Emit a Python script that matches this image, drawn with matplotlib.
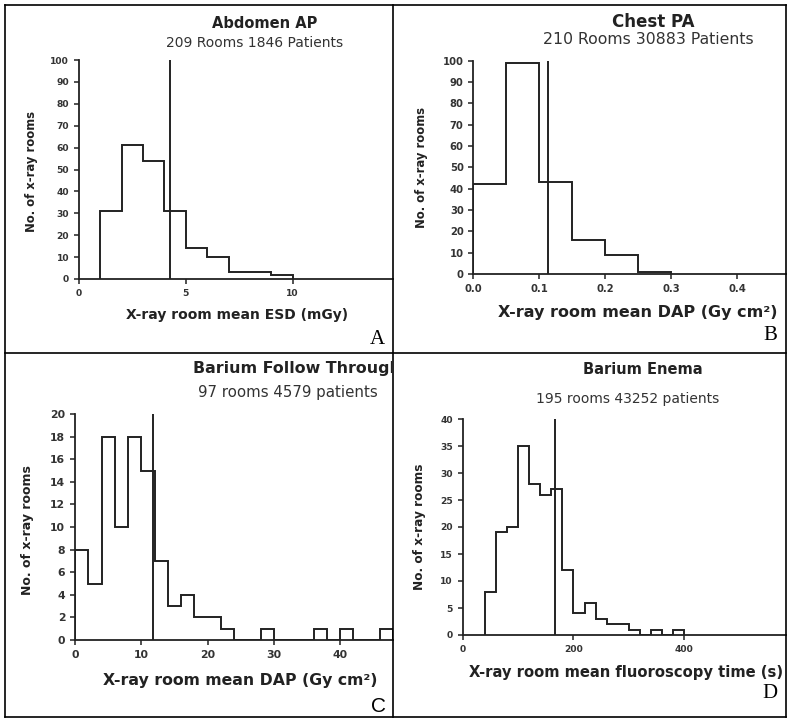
import numpy as np
import matplotlib
matplotlib.use('Agg')
import matplotlib.pyplot as plt
from matplotlib.transforms import Bbox

plt.rcParams['font.family'] = ['DejaVu Sans']

# Panel A - Abdomen AP (ESD, mGy)
a_edges = np.arange(1, 11, 1)
a_counts = [31, 61, 54, 31, 14, 10, 3, 3, 2]
a_ref = 4.25

# Panel B - Chest PA (DAP, Gy cm2)
b_edges = np.arange(0, 0.31, 0.05)
b_counts = [42, 99, 43, 16, 9, 1]
b_ref = 0.113

# Panel C - Barium Follow Through (DAP, Gy cm2)
c_edges = np.arange(0, 49, 2)
c_counts = [8, 5, 18, 10, 18, 15, 7, 3, 4, 2, 2, 1, 0, 0, 1, 0, 0, 0, 1, 0, 1, 0, 0, 1]
c_ref = 11.7

# Panel D - Barium Enema (fluoroscopy time, s)
d_edges = np.arange(40, 401, 20)
d_counts = [8, 19, 20, 35, 28, 26, 27, 12, 4, 6, 3, 2, 2, 1, 0, 1, 0, 1]
d_ref = 166

W, H = 792, 722
fig = plt.figure(figsize=(W / 100, H / 100), dpi=100)


def fx(px):
    return px / W


def fy(py):
    return 1 - py / H


def make_ax(left, right, top, bottom):
    return fig.add_axes([fx(left), fy(bottom), fx(right - left), (bottom - top) / H])


def style(ax, xlim, ylim, xticks, yticks, xfmt, fs):
    ax.set_xlim(*xlim)
    ax.set_ylim(*ylim)
    ax.set_xticks(xticks)
    ax.set_xticklabels([xfmt.format(t) for t in xticks])
    ax.set_yticks(yticks)
    for s in ['top', 'right']:
        ax.spines[s].set_visible(False)
    for s in ['left', 'bottom']:
        ax.spines[s].set_linewidth(1.3)
        ax.spines[s].set_color('#222222')
    ax.tick_params(direction='out', length=3.5, width=1.1, colors='#222222',
                   labelsize=fs)
    for lab in ax.get_xticklabels() + ax.get_yticklabels():
        lab.set_fontweight('bold')
        lab.set_color('#333333')
    ax.set_facecolor('none')


def cell_clip(x0, y0, x1, y1):
    # clip box in display pixels (origin bottom-left)
    return Bbox([[x0, H - y1], [x1, H - y0]])


# cell borders
lw = 1.2
for x in [5, 393, 786]:
    fig.add_artist(plt.Line2D([fx(x), fx(x)], [fy(5), fy(717)], color='black', lw=lw))
for y in [5, 353, 717]:
    fig.add_artist(plt.Line2D([fx(5), fx(786)], [fy(y), fy(y)], color='black', lw=lw))

# ---- A ----
axA = make_ax(79, 393, 60, 279)
axA.stairs(a_counts, a_edges, baseline=0, color='#222222', lw=1.4)
axA.axvline(a_ref, color='#222222', lw=1.4)
style(axA, (0, 14.7), (0, 100), [0, 5, 10], range(0, 101, 10), '{:g}', 6.6)

# ---- B ----
axB = make_ax(473.3, 786, 60.7, 274)
axB.stairs(b_counts, b_edges, baseline=0, color='#222222', lw=1.4)
axB.axvline(b_ref, color='#222222', lw=1.4)
style(axB, (0, 0.474), (0, 100), [0, 0.1, 0.2, 0.3, 0.4], range(0, 101, 10),
      '{:.1f}', 7.2)

# ---- C ----
axC = make_ax(75, 393, 414, 640)
axC.stairs(c_counts, c_edges, baseline=0, color='#222222', lw=1.4)
axC.axvline(c_ref, color='#222222', lw=1.4)
style(axC, (0, 48), (0, 20), [0, 10, 20, 30, 40], range(0, 21, 2), '{:g}', 7.8)

# ---- D ----
axD = make_ax(462.7, 786, 419, 635)
axD.stairs(d_counts, d_edges, baseline=0, color='#222222', lw=1.4)
axD.axvline(d_ref, color='#222222', lw=1.4)
style(axD, (0, 583.6), (0, 40), [0, 200, 400], range(0, 41, 5), '{:g}', 6.6)

# texts
tc = '#222222'
ylab = 'No. of x-ray rooms'
lfs = 15

fig.text(fx(265), fy(23), 'Abdomen AP', ha='center', va='center', fontsize=10.5,
         fontweight='bold', color=tc)
fig.text(fx(255), fy(43), '209 Rooms 1846 Patients', ha='center', va='center',
         fontsize=10, color='#333333')
fig.text(fx(237), fy(315), 'X-ray room mean ESD (mGy)', ha='center', va='center',
         fontsize=10, fontweight='bold', color=tc)
fig.text(fx(32), fy(172), ylab, ha='center', va='center', rotation=90,
         fontsize=8.4, fontweight='bold', color=tc)
fig.text(fx(377), fy(340), 'A', ha='center', va='center', fontsize=lfs,
         family='Liberation Serif', color='black')

fig.text(fx(653), fy(22), 'Chest PA', ha='center', va='center', fontsize=12,
         fontweight='bold', color=tc)
fig.text(fx(648), fy(40), '210 Rooms 30883 Patients', ha='center', va='center',
         fontsize=11.3, color='#333333')
fig.text(fx(638), fy(312), 'X-ray room mean DAP (Gy cm²)', ha='center',
         va='center', fontsize=11.5, fontweight='bold', color=tc)
fig.text(fx(421), fy(168), ylab, ha='center', va='center', rotation=90,
         fontsize=8.4, fontweight='bold', color=tc)
fig.text(fx(770), fy(336), 'B', ha='center', va='center', fontsize=lfs,
         family='Liberation Serif', color='black')

t = fig.text(fx(193), fy(368), 'Barium Follow Through', ha='left', va='center',
             fontsize=11.4, fontweight='bold', color=tc)
t.set_clip_on(True)
t.set_clip_box(cell_clip(5, 353, 392, 717))
fig.text(fx(288), fy(392), '97 rooms 4579 patients', ha='center', va='center',
         fontsize=10.8, color='#333333')
fig.text(fx(240), fy(680), 'X-ray room mean DAP (Gy cm²)', ha='center',
         va='center', fontsize=11.3, fontweight='bold', color=tc)
fig.text(fx(28), fy(530), ylab, ha='center', va='center', rotation=90,
         fontsize=9, fontweight='bold', color=tc)
fig.text(fx(378), fy(706), 'C', ha='center', va='center', fontsize=lfs,
         family='Liberation Sans', color='black')

fig.text(fx(643), fy(369), 'Barium Enema', ha='center', va='center', fontsize=10.5,
         fontweight='bold', color=tc)
fig.text(fx(628), fy(399), '195 rooms 43252 patients', ha='center', va='center',
         fontsize=10, color='#333333')
fig.text(fx(626), fy(672), 'X-ray room mean fluoroscopy time (s)', ha='center',
         va='center', fontsize=10.6, fontweight='bold', color=tc)
fig.text(fx(419), fy(527), ylab, ha='center', va='center', rotation=90,
         fontsize=8.7, fontweight='bold', color=tc)
fig.text(fx(770), fy(694), 'D', ha='center', va='center', fontsize=lfs,
         family='Liberation Serif', color='black')

fig.savefig('out.png', dpi=100, facecolor='white')
